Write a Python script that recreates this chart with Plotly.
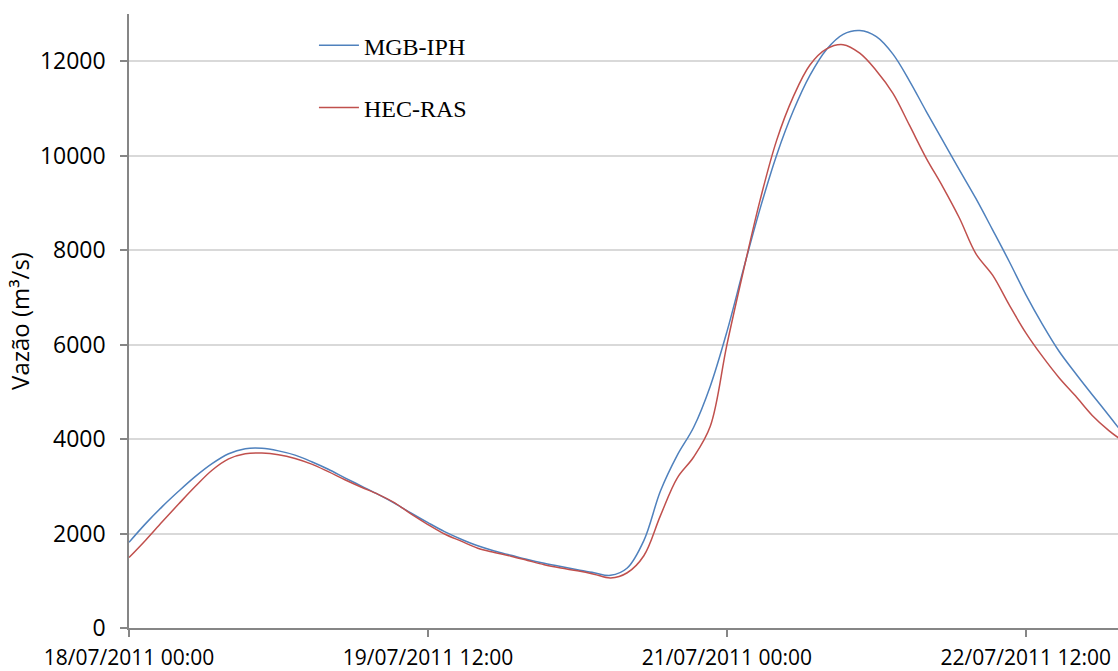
import pandas as pd
import plotly.graph_objects as go

# Hours since 18/07/2011 00:00 (2-hour steps)
hours = list(range(0, 122, 2))

# Discharge simulated by the hydrological model (m3/s)
mgb_iph = [
    1814, 2210, 2570, 2900, 3210, 3480, 3690, 3795, 3805, 3750,
    3660, 3520, 3360, 3180, 3005, 2830, 2640, 2430, 2230, 2040,
    1880, 1740, 1630, 1540, 1450, 1370, 1300, 1235, 1170, 1115,
    1270, 1850, 2900, 3650, 4250, 5120, 6270, 7600, 8880, 10017,
    10950, 11700, 12250, 12570, 12650, 12520, 12150, 11580, 10940, 10320,
    9700, 9090, 8430, 7760, 7060, 6430, 5860, 5390, 4940, 4500,
    4050,
]

# Discharge simulated by the hydraulic model (m3/s)
hec_ras = [
    1491, 1860, 2250, 2630, 3000, 3340, 3580, 3690, 3705, 3670,
    3590, 3470, 3310, 3140, 2980, 2830, 2650, 2410, 2190, 1990,
    1840, 1690, 1600, 1520, 1430, 1340, 1270, 1210, 1140, 1060,
    1170, 1530, 2380, 3170, 3620, 4270, 5995, 7570, 9060, 10330,
    11250, 11920, 12260, 12350, 12170, 11800, 11320, 10640, 9950, 9340,
    8680, 7920, 7470, 6840, 6250, 5750, 5300, 4910, 4500, 4180,
    3920,
]

series_names = ["MGB-IPH", "HEC-RAS"]
series_colors = ["#4F81BD", "#C0504D"]

start = pd.Timestamp("2011-07-18 00:00")
times = start + pd.to_timedelta(hours, unit="h")

fig = go.Figure()
for i, (name, vals, color) in enumerate(zip(series_names, [mgb_iph, hec_ras], series_colors)):
    fig.add_trace(go.Scatter(
        x=times, y=vals, name=name, mode="lines",
        line=dict(color=color, width=1.5, shape="spline", smoothing=1.0),
        legendgroup=f"g{i}",
    ))

x_end = start + pd.Timedelta(hours=119.1)

fig.update_layout(
    width=1118, height=671,
    margin=dict(l=129, r=0, t=14, b=41),
    paper_bgcolor="white", plot_bgcolor="white",
    font=dict(family="Open Sans", size=21, color="#000000"),
    showlegend=True,
    legend=dict(
        x=0.187, y=0.985, xanchor="left", yanchor="top",
        bgcolor="rgba(0,0,0,0)", borderwidth=0,
        font=dict(family="Liberation Serif", size=24, color="#000000"),
        tracegroupgap=28, traceorder="grouped", itemwidth=40,
    ),
    xaxis=dict(
        type="date",
        range=[start, x_end],
        tick0=start, dtick=36 * 3600 * 1000,
        tickformat="%d/%m/%Y %H:%M",
        showgrid=False, zeroline=False,
        showline=True, linecolor="#868686", linewidth=1.5,
        ticks="outside", ticklen=7, tickcolor="#868686", tickwidth=1.5,
        ticklabelstandoff=3,
        tickfont=dict(family="Open Sans", size=21),
    ),
    yaxis=dict(
        range=[0, 13000],
        tick0=0, dtick=2000, tickformat="d",
        showgrid=True, gridcolor="#D9D9D9", gridwidth=1.5,
        zeroline=False,
        showline=True, linecolor="#868686", linewidth=1.5,
        ticks="outside", ticklen=7, tickcolor="#868686", tickwidth=1.5,
        ticklabelstandoff=10,
        tickfont=dict(family="Open Sans", size=23),
        title=dict(text="Vazão (m³/s)", standoff=3,
                   font=dict(family="Open Sans", size=24)),
    ),
)

fig.write_html("out.html")
